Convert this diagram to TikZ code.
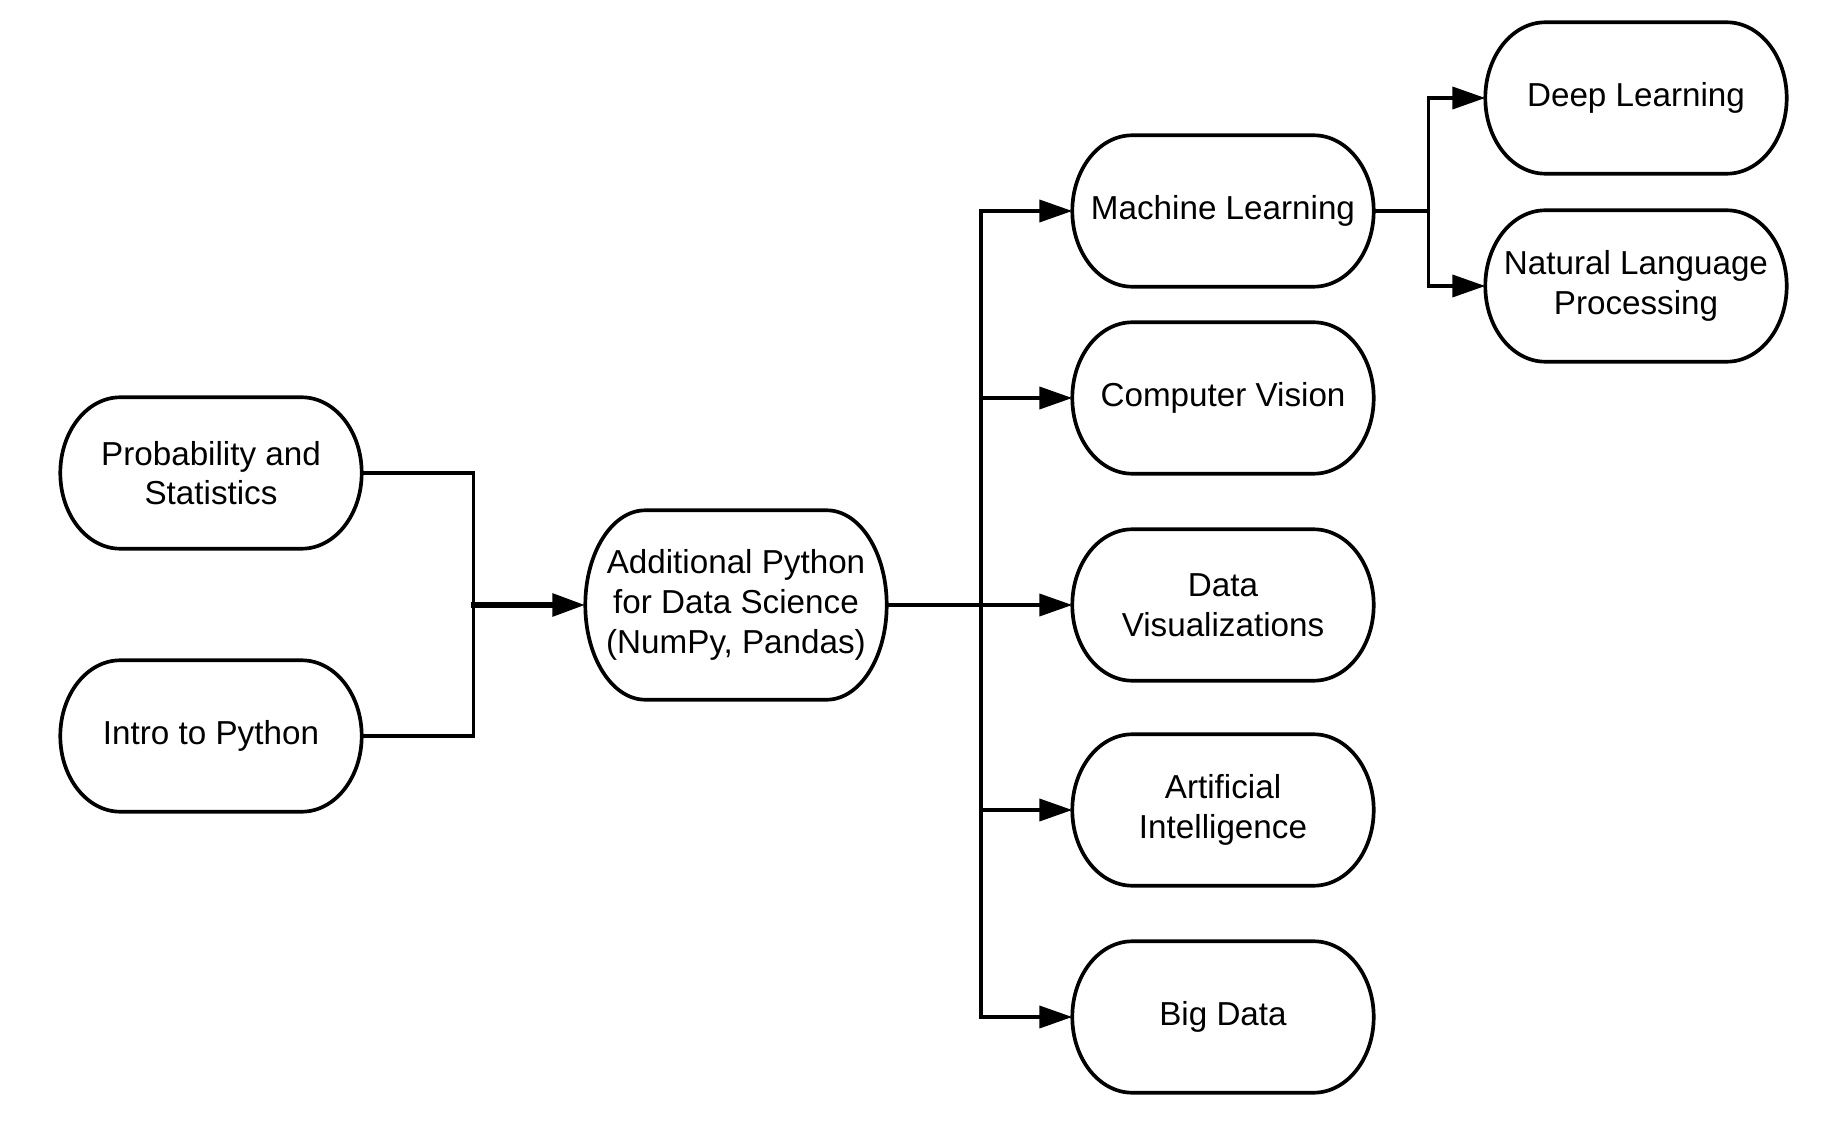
\documentclass[tikz,border=0pt]{standalone}
\usepackage{fontspec}
\setmainfont{Liberation Sans}
\usetikzlibrary{arrows.meta,positioning,calc}

\tikzset{
  topic/.style={rectangle, minimum width=3cm, minimum height=1.5cm, align=center, inner sep=0pt,
    font=\fontsize{9.45}{11.3}\selectfont},
  link/.style={line width=1.1pt, line cap=rect},
  arr/.style={link, -{Triangle[length=3.3mm,width=2.2mm]}},
}
\newcommand{\capsule}[1]{%
  \draw[line width=1.05pt] let \p1=(#1.north west), \p2=(#1.south east), \n1={(\y1-\y2)/2} in
    (\x1+6mm,\y1) -- (\x2-6mm,\y1) arc[start angle=90,end angle=-90,x radius=6mm,y radius=\n1]
    -- (\x1+6mm,\y2) arc[start angle=270,end angle=90,x radius=6mm,y radius=\n1] -- cycle;}

\begin{document}
\begin{tikzpicture}
  \useasboundingbox (0,0) rectangle (18.24,11.25);

  % topics
  \node[topic] (prob) at (2.11,6.52) {Probability and\\Statistics};
  \node[topic] (intro) at (2.11,3.89) {Intro to Python};
  \node[topic, minimum height=1.88cm] (add) at (7.36,5.20) {Additional Python\\for Data Science\\(NumPy, Pandas)};
  \node[topic] (ml) at (12.23,9.14) {Machine Learning};
  \node[topic] (cv) at (12.23,7.27) {Computer Vision};
  \node[topic] (dv) at (12.23,5.20) {Data\\Visualizations};
  \node[topic] (ai) at (12.23,3.15) {Artificial\\Intelligence};
  \node[topic] (bd) at (12.23,1.08) {Big Data};
  \node[topic] (dl) at (16.36,10.27) {Deep Learning};
  \node[topic] (nlp) at (16.36,8.39) {Natural Language\\Processing};

  \foreach \t in {prob,intro,add,ml,cv,dv,ai,bd,dl,nlp}
    \capsule{\t};

  % connectors
  \coordinate (join) at (4.735,5.20);
  \coordinate (bus) at (9.807,5.20);
  \coordinate (fork) at (14.285,9.14);

  \draw[link] (prob.east) -| (join) |- (intro.east);
  \draw[arr, line width=1.7pt] (join) -- (add.west);

  \draw[link] (add.east) -- (bus);
  \draw[link] (bus |- ml.west) -- (bus |- bd.west);
  \foreach \t in {ml,cv,dv,ai,bd}
    \draw[arr] (bus |- \t.west) -- (\t.west);

  \draw[link] (ml.east) -- (fork);
  \draw[link] (fork |- dl.west) -- (fork |- nlp.west);
  \foreach \t in {dl,nlp}
    \draw[arr] (fork |- \t.west) -- (\t.west);
\end{tikzpicture}
\end{document}
